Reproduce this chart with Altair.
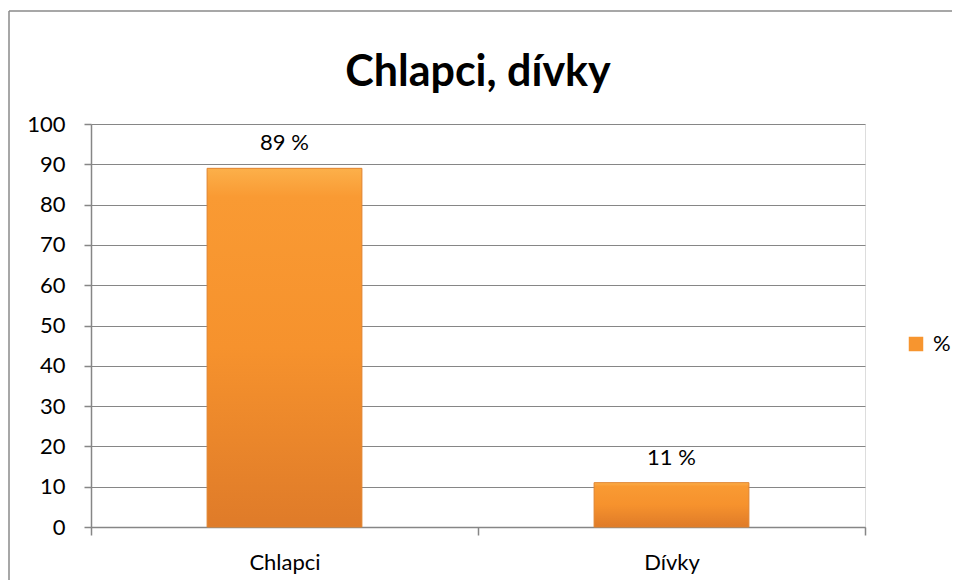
import altair as alt
import pandas as pd

categories = ["Chlapci", "Dívky"]
values = [89, 11]
value_labels = ["89 %", "11 %"]
series = ["%", "%"]
y_ticks = [0, 10, 20, 30, 40, 50, 60, 70, 80, 90, 100]

df = pd.DataFrame({
    "kategorie": categories,
    "hodnota": values,
    "popisek": value_labels,
    "rada": series,
})

FONT = "Lato"
GRID = "#868686"

bar_fill = alt.LinearGradient(
    gradient="linear", x1=0, x2=0, y1=0, y2=1,
    stops=[
        alt.GradientStop(color="#FCB04A", offset=0),
        alt.GradientStop(color="#F99A33", offset=0.08),
        alt.GradientStop(color="#F6922D", offset=0.5),
        alt.GradientStop(color="#DF7B29", offset=1),
    ],
)

x_enc = alt.X(
    "kategorie:N", sort=categories,
    scale=alt.Scale(paddingInner=0, paddingOuter=0),
    axis=alt.Axis(title=None, labelAngle=0, tickBand="extent", tickSize=8,
                  labelPadding=17, labelFont=FONT, labelFontSize=22,
                  labelColor="black", domainColor=GRID, tickColor=GRID,
                  domainWidth=1.5, tickWidth=1.5, grid=False),
)
y_enc = alt.Y(
    "hodnota:Q",
    scale=alt.Scale(domain=[0, 100], nice=False),
    axis=alt.Axis(title=None, values=y_ticks, tickSize=7, labelPadding=19,
                  labelFont=FONT, labelFontSize=22, labelColor="black",
                  domainColor=GRID, tickColor=GRID, gridColor=GRID,
                  domainWidth=1.5, tickWidth=1.5, gridWidth=1),
)

base = alt.Chart(df)

bars = base.mark_bar(
    width=alt.RelativeBandSize(0.4), fill=bar_fill,
    stroke="#E0832E", strokeWidth=1,
).encode(x=x_enc, y=y_enc)

texts = base.mark_text(
    baseline="alphabetic", dy=-18, font=FONT, fontSize=22, color="black",
).encode(x=alt.X("kategorie:N", sort=categories), y="hodnota:Q", text="popisek:N")

legend_layer = base.mark_square(opacity=0, size=10).encode(
    x=alt.X("kategorie:N", sort=categories),
    y="hodnota:Q",
    color=alt.Color(
        "rada:N",
        scale=alt.Scale(range=["#F7952F"]),
        legend=alt.Legend(
            title=None, orient="none", legendX=814, legendY=209,
            symbolType="square", symbolSize=210, symbolOpacity=1,
            symbolStrokeWidth=0, labelFont=FONT, labelFontSize=22,
            labelColor="black", labelOffset=6,
        ),
    ),
)

frame = alt.Chart(alt.Data(values=[{}])).mark_rule(
    color="#8A8A8A", strokeWidth=1.5, clip=False
).encode(x=alt.value(-82), y=alt.value(-113), y2=alt.value(480))
frame_top = alt.Chart(alt.Data(values=[{}])).mark_rule(
    color="#8A8A8A", strokeWidth=1.5, clip=False
).encode(x=alt.value(-82), x2=alt.value(900), y=alt.value(-113))

chart = alt.layer(frame, frame_top, bars, texts, legend_layer).properties(
    width=774, height=403,
    title=alt.TitleParams(
        "Chlapci, dívky", font=FONT, fontSize=43, fontWeight="bold",
        color="black", anchor="middle", offset=30, baseline="alphabetic", dy=149,
    ),
    autosize=alt.AutoSizeParams(type="none"),
    padding={"left": 83, "top": 116, "right": 87, "bottom": 53},
).configure_view(stroke=None).configure(background="white")

chart.save("out.html", embed_options={"renderer": "svg", "actions": False})
